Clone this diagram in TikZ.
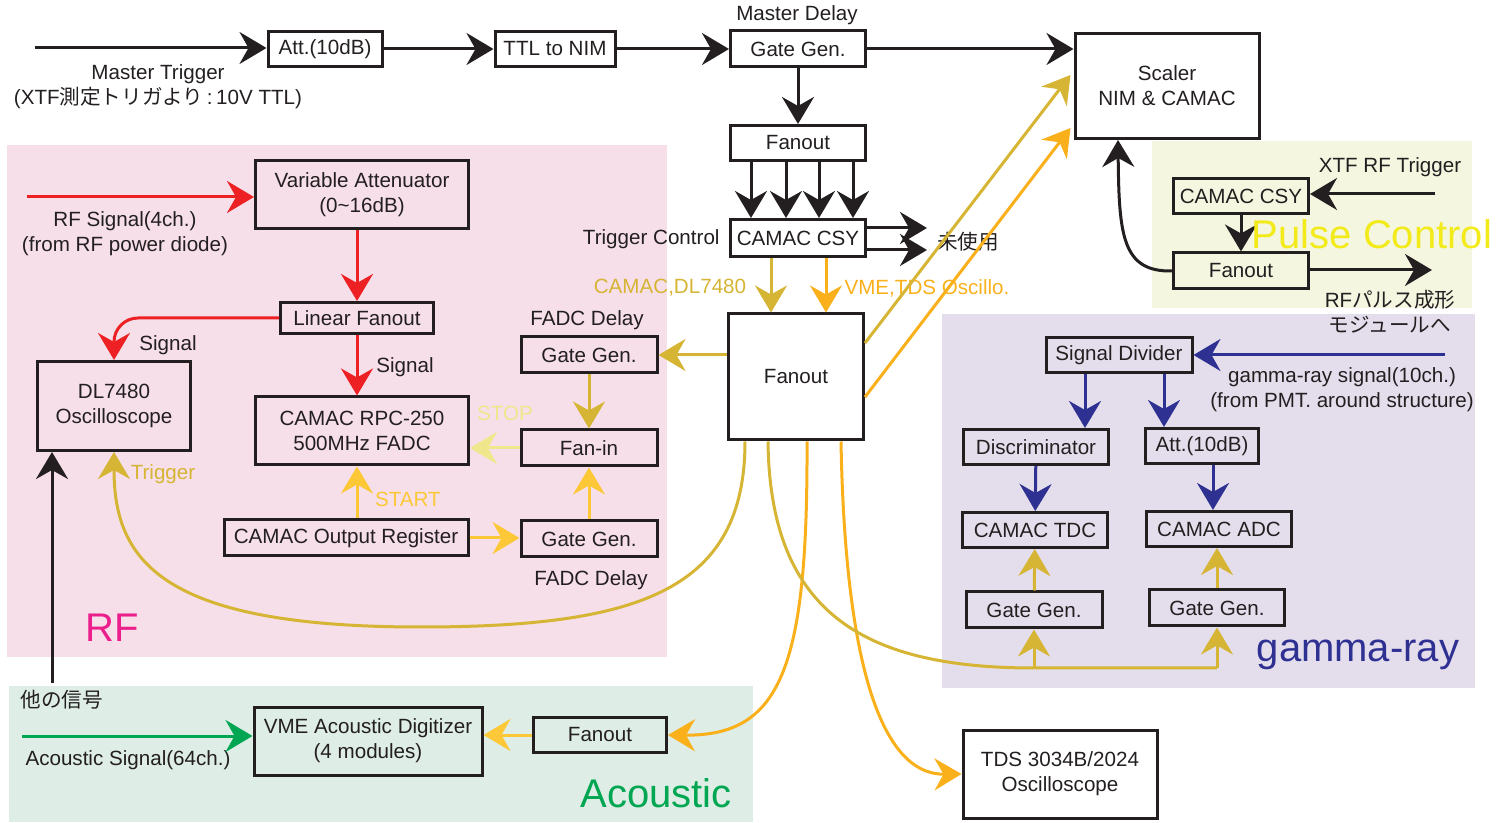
\documentclass[tikz,border=0pt]{standalone}
\usepackage{fontspec}
\setmainfont{Liberation Sans}
\newfontfamily\jp{Noto Sans CJK JP}
\usetikzlibrary{arrows.meta,calc}

\definecolor{ink}{RGB}{35,31,32}
\definecolor{rfred}{RGB}{237,32,36}
\definecolor{trgold}{RGB}{214,180,52}
\definecolor{trorange}{RGB}{249,176,27}
\definecolor{start}{RGB}{253,200,55}
\definecolor{stop}{RGB}{240,230,140}
\definecolor{gblue}{RGB}{46,49,146}
\definecolor{agreen}{RGB}{0,166,81}
\definecolor{rfmag}{RGB}{236,30,140}
\definecolor{pcyel}{RGB}{242,234,25}
\definecolor{bgrf}{RGB}{246,223,233}
\definecolor{bgpc}{RGB}{244,246,224}
\definecolor{bggm}{RGB}{228,222,236}
\definecolor{bgac}{RGB}{222,237,230}

\begin{document}
\begin{tikzpicture}[x=0.5pt,y=-0.5pt,
    font=\fontsize{10.3}{12.5}\selectfont, text=ink,
    >={Stealth[length=13.5pt,width=16pt,inset=4.5pt]},
    blk/.style={draw=ink, line width=1.5pt, inner sep=0pt, minimum height=17.5pt, align=center},
    con/.style={->, line width=1.5pt, draw=ink},
    lbl/.style={inner sep=0pt, align=center, yshift=-1pt},
    big/.style={inner sep=0pt, font=\fontsize{20}{24}\selectfont}]
\useasboundingbox (0,0) rectangle (1506,823);

% Bereiche
\fill[bgrf] (7,145) rectangle (667,657);
\fill[bgpc] (1152,141) rectangle (1472,308);
\fill[bggm] (942,314) rectangle (1475,688);
\fill[bgac] (9,686) rectangle (753,822);

% Master-Trigger-Kette
\node[blk, minimum width=57pt] (att) at (325,49) {Att.(10dB)};
\node[blk, minimum width=60pt] (ttl) at (555,49) {TTL to NIM};
\node[blk, minimum width=67.5pt, minimum height=18pt] (mg) at (798,49) {Gate Gen.};
\node[lbl] (mgl) at (797,13) {Master Delay};
\node[blk, minimum width=92pt, minimum height=52.5pt] (sc) at (1167,86) {Scaler\\NIM \& CAMAC};
\node[blk, minimum width=67.5pt] (fo1) at (798,143) {Fanout};
\node[blk, minimum width=67.5pt, minimum height=18.5pt] (csy) at (798,238) {CAMAC CSY};
\node[lbl, anchor=east] (tcl) at (720,237) {Trigger Control};
\node[lbl] (nu) at (968,240) {\jp 未使用};
\node[blk, minimum width=67.5pt, minimum height=63pt] (fo2) at (796,377) {Fanout};
\node[lbl] (mtl) at (158,85) {Master Trigger\\(XTF{\jp 測定トリガより}\,:\,10V TTL)};
\node[lbl, text=trgold] (cdl) at (670,286) {CAMAC,DL7480};
\node[lbl, text=trorange] (vtl) at (927,286) {VME,TDS Oscillo.};

% RF
\node[blk, minimum width=106.5pt, minimum height=34pt] (va) at (362,195) {Variable Attenuator\\(0\textasciitilde16dB)};
\node[blk, minimum width=76.5pt, minimum height=15.5pt] (lf) at (357,318) {Linear Fanout};
\node[blk, minimum width=76.5pt, minimum height=44.5pt] (dl) at (114,406) {DL7480\\Oscilloscope};
\node[blk, minimum width=106.5pt, minimum height=34pt] (fadc) at (362,431) {CAMAC RPC-250\\500MHz FADC};
\node[blk, minimum width=68pt, minimum height=18pt] (gg1) at (589,355) {Gate Gen.};
\node[blk, minimum width=68pt, minimum height=18pt] (fi) at (589,448) {Fan-in};
\node[blk, minimum width=122pt, minimum height=18pt] (or) at (346,538) {CAMAC Output Register};
\node[blk, minimum width=68pt, minimum height=18pt] (gg2) at (589,539) {Gate Gen.};
\node[lbl] (rsl) at (125,232) {RF Signal(4ch.)\\(from RF power diode)};
\node[lbl] (sg1) at (168,343) {Signal};
\node[lbl] (sg2) at (405,365) {Signal};
\node[lbl] (fd1) at (587,318) {FADC Delay};
\node[lbl] (fd2) at (591,578) {FADC Delay};
\node[lbl, text=stop] (stp) at (505,411) {STOP};
\node[lbl, text=start] (stt) at (408,497) {START};
\node[lbl, text=trgold] (trg) at (163,472) {Trigger};
\node[big, text=rfmag] (rfl) at (112,628) {RF};
\node[lbl, anchor=west] (oth) at (20,698) {\jp 他の信号};

% Acoustic
\node[blk, minimum width=114pt, minimum height=34pt] (vme) at (368,741) {VME Acoustic Digitizer\\(4 modules)};
\node[blk, minimum width=66.5pt] (afo) at (600,735) {Fanout};
\node[lbl] (asl) at (128,758) {Acoustic Signal(64ch.)};
\node[big, text=agreen] (acl) at (656,793) {Acoustic};

% TDS
\node[blk, minimum width=97pt, minimum height=44pt] (tds) at (1060,774) {TDS 3034B/2024\\Oscilloscope};

% gamma-ray
\node[blk, minimum width=73pt] (sd) at (1119,355) {Signal Divider};
\node[blk, minimum width=72.5pt] (disc) at (1036,447) {Discriminator};
\node[blk, minimum width=56.5pt] (att2) at (1202,446) {Att.(10dB)};
\node[blk, minimum width=72.5pt] (tdc) at (1035,530) {CAMAC TDC};
\node[blk, minimum width=72.5pt] (adc) at (1219,529) {CAMAC ADC};
\node[blk, minimum width=68pt, minimum height=18pt] (ggL) at (1034,610) {Gate Gen.};
\node[blk, minimum width=67.5pt, minimum height=18pt] (ggR) at (1217,608) {Gate Gen.};
\node[lbl] (gsl) at (1342,388) {gamma-ray signal(10ch.)\\(from PMT. around structure)};
\node[big, text=gblue] (gml) at (1358,655) {gamma-ray};

% Pulse Control
\node[blk, minimum width=67.5pt] (pcsy) at (1241,196) {CAMAC CSY};
\node[blk, minimum width=67.5pt, minimum height=18pt] (pfo) at (1241,271) {Fanout};
\node[lbl] (xtl) at (1390,165) {XTF RF Trigger};
\node[lbl] (rpl) at (1390,310) {RF{\jp パルス成形}\\{\jp モジュールへ}};

% freie Enden
\coordinate (mt) at (35,48);
\coordinate (nu1) at (927,228);
\coordinate (nu2) at (927,250);
\coordinate (rs) at (27,197);
\coordinate (os) at (52,683);
\coordinate (as) at (22,736);
\coordinate (gs) at (1445,355);
\coordinate (xt) at (1435,194);
\coordinate (rp) at (1432,270);
\coordinate (gbus) at (1217,668);
\coordinate (cd1) at ($(csy.south)+(-27,0)$);
\coordinate (cd2) at ($(csy.south)+(28,0)$);
\coordinate (t1) at ($(fo2.south)+(-51,0)$);
\coordinate (t2) at ($(fo2.south)+(-28,0)$);
\coordinate (t3) at ($(fo2.south)+(11,0)$);
\coordinate (t4) at ($(fo2.south)+(45,0)$);
\coordinate (b1) at ($(sd.south)+(-34,0)$);
\coordinate (b2) at ($(sd.south)+(45,0)$);

% Master Trigger
\draw[con] (mt) -- (mt -| att.west);
\draw[con] (att) -- (ttl);
\draw[con] (ttl) -- (mg);
\draw[con] (mg.east) -- (mg.east -| sc.west);
\draw[con] (mg) -- (fo1);
\foreach \dx in {-47,-12,21,55}
  \draw[con] ($(fo1.south)+(\dx,0)$) -- ($(csy.north)+(\dx,0)$);
\draw[con] (nu1 -| csy.east) -- (nu1);
\draw[con] (nu2 -| csy.east) -- (nu2);
\draw[con, draw=trgold] (cd1) -- (cd1 |- fo2.north);
\draw[con, draw=trorange] (cd2) -- (cd2 |- fo2.north);
\draw[con, draw=trgold] ($(fo2.east)+(0,-34)$) -- ($(sc.west)+(-3,-11)$);
\draw[con, draw=trorange] ($(fo2.east)+(0,20)$) -- ($(sc.west)+(-3,42)$);

% RF Signal
\draw[con, draw=rfred] (rs) -- (rs -| va.west);
\draw[con, draw=rfred] (va.south -| lf.north) -- (lf.north);
\draw[con, draw=rfred, rounded corners=12pt] (lf.west) -| (dl.north);
\draw[con, draw=rfred] (lf.south) -- (lf.south |- fadc.north);

% FADC Steuerung
\draw[con, draw=trgold] (gg1.east -| fo2.west) -- (gg1.east);
\draw[con, draw=trgold] (gg1) -- (fi);
\draw[con, draw=stop] (fi.west) -- (fi.west -| fadc.east);
\draw[con, draw=start] ($(or.north)+(11,0)$) -- ($(fadc.south)+(-5,0)$);
\draw[con, draw=start] (or.east) -- (or.east -| gg2.west);
\draw[con, draw=start] (gg2) -- (fi);
\draw[con, draw=trgold] (t1) .. controls (745,590) and (640,627) .. (420,627)
  .. controls (160,627) and (114,560) .. (dl.south);
\draw[con] (os) -- (os |- dl.south);

% Acoustic
\draw[con, draw=agreen] (as) -- (as -| vme.west);
\draw[con, draw=start] (afo.west) -- (afo.west -| vme.east);
\draw[con, draw=trorange] (t3) .. controls (808,670) and (780,736) .. (afo.east);

% TDS
\draw[con, draw=trorange] (t4) .. controls (845,660) and (880,775) .. (tds.west);

% gamma-ray
\draw[line width=1.5pt, trgold] (t2) .. controls (770,610) and (860,668) .. (ggL.south |- gbus) -- (gbus);
\draw[con, draw=trgold] (ggL.south |- gbus) -- (ggL.south);
\draw[con, draw=trgold] (gbus) -- (ggR.south);
\draw[con, draw=trgold] (ggL) -- (tdc);
\draw[con, draw=trgold] (ggR.north) -- (ggR.north |- adc.south);
\draw[con, draw=gblue] (gs) -- (gs -| sd.east);
\draw[con, draw=gblue] (b1) -- (b1 |- disc.north);
\draw[con, draw=gblue] (b2) -- (b2 |- att2.north);
\draw[con, draw=gblue] (disc) -- (tdc);
\draw[con, draw=gblue] ($(att2.south)+(11,0)$) -- ($(adc.north)+(-6,0)$);

% Pulse Control
\draw[con] (xt) -- (xt -| pcsy.east);
\draw[con] (pcsy) -- (pfo);
\draw[con] (rp -| pfo.east) -- (rp);
\draw[con] (pfo.west) .. controls (1122,272) and (1119,235) .. ($(sc.south)+(-49,0)$);
\node[big, text=pcyel] (pcl) at (1372,234) {Pulse Control};
\end{tikzpicture}
\end{document}
